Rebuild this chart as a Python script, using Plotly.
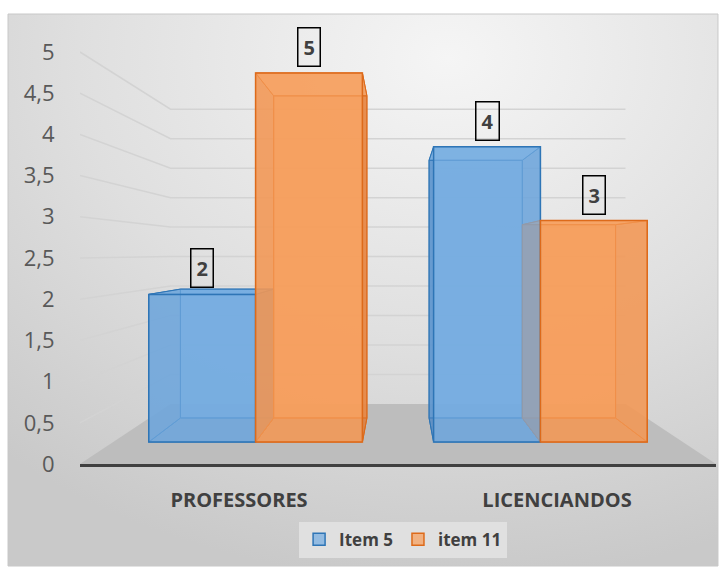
import base64
import plotly.graph_objects as go

# ---------------- data ----------------
categories = ["PROFESSORES", "LICENCIANDOS"]
series_names = ["Item 5", "item 11"]
item5 = [2, 4]
item11 = [5, 3]
ytick_vals = [0, 0.5, 1, 1.5, 2, 2.5, 3, 3.5, 4, 4.5, 5]
ytick_text = ["0", "0,5", "1", "1,5", "2", "2,5", "3", "3,5", "4", "4,5", "5"]

# ---------------- perspective settings (front-plane axis units) ----------------
VP_U, VP_V = 0.5, 2.56      # vanishing point
S_WALL = 0.7154             # depth scale of the back wall
S_FRONT = 0.8957            # depth scale of bar front faces
S_BACK = 0.782              # depth scale of bar back faces
X_RANGE = [-0.5, 1.5]
Y_RANGE = [0, 5.461]
BARGAP = 0.25
BAR_W = (1 - BARGAP) / 2

FONT = "Open Sans"
TXT = "#404040"

colors = {
    "Item 5": dict(face=(116, 172, 225), side=(84, 138, 196), edge="#2e75b6"),
    "item 11": dict(face=(246, 158, 92), side=(222, 124, 58), edge="#dd6a1a"),
}


def proj(u, v, s):
    return VP_U + s * (u - VP_U), VP_V + s * (v - VP_V)


def rgba(c, a):
    return "rgba(%d,%d,%d,%.3f)" % (c[0], c[1], c[2], a)


fig = go.Figure()

# floor
fl = [proj(X_RANGE[0], 0, 1), proj(X_RANGE[1], 0, 1),
      proj(X_RANGE[1], 0, S_WALL), proj(X_RANGE[0], 0, S_WALL)]
fig.add_trace(go.Scatter(x=[p[0] for p in fl] + [fl[0][0]], y=[p[1] for p in fl] + [fl[0][1]],
                         fill="toself", fillcolor="#bdbdbd", mode="lines",
                         line=dict(color="#bdbdbd", width=0), hoverinfo="skip", showlegend=False))

# perspective gridlines (side wall diagonal + back wall)
gx, gy = [], []
for v in ytick_vals[1:]:
    a = proj(X_RANGE[0], v, 1)
    b = proj(X_RANGE[0], v, S_WALL)
    c = proj(X_RANGE[1], v, S_WALL)
    gx += [a[0], b[0], c[0], None]
    gy += [a[1], b[1], c[1], None]
fig.add_trace(go.Scatter(x=gx, y=gy, mode="lines", line=dict(color="#d3d3d3", width=1.5),
                         hoverinfo="skip", showlegend=False))

# 3-D box faces (back/side/top/bottom) behind the front faces
series = [("Item 5", item5, -1), ("item 11", item11, 1)]
for name, vals, side in series:
    col = colors[name]
    for i, h in enumerate(vals):
        u0 = i if side > 0 else i - BAR_W
        u1 = u0 + BAR_W
        F = [proj(u0, 0, S_FRONT), proj(u1, 0, S_FRONT), proj(u1, h, S_FRONT), proj(u0, h, S_FRONT)]
        B = [proj(u0, 0, S_BACK), proj(u1, 0, S_BACK), proj(u1, h, S_BACK), proj(u0, h, S_BACK)]
        faces = [
            (B, rgba(col["face"], 0.85)),
            ([F[0], F[1], B[1], B[0]], rgba(col["side"], 0.6)),
            ([F[0], F[3], B[3], B[0]], rgba(col["side"], 0.6)),
            ([F[1], F[2], B[2], B[1]], rgba(col["side"], 0.6)),
            ([F[3], F[2], B[2], B[3]], rgba(col["face"], 0.7)),
        ]
        for poly, fc in faces:
            fig.add_trace(go.Scatter(
                x=[p[0] for p in poly] + [poly[0][0]], y=[p[1] for p in poly] + [poly[0][1]],
                fill="toself", fillcolor=fc, mode="lines",
                line=dict(color=col["edge"], width=1), hoverinfo="skip", showlegend=False))

# front faces: real bars on a scaled overlay axis
for name, vals, side in series:
    col = colors[name]
    fig.add_trace(go.Bar(
        x=[0, 1], y=vals, name=name, xaxis="x2", yaxis="y2",
        marker=dict(color=rgba(col["face"], 0.72), line=dict(color=col["edge"], width=1.5)),
        hoverinfo="skip"))

# value labels
for name, vals, side in series:
    for i, h in enumerate(vals):
        fig.add_annotation(
            x=i + side * BAR_W / 2, y=h, xref="x2", yref="y2", text="<b>%s</b>" % h,
            showarrow=False, yanchor="bottom", yshift=6,
            font=dict(family=FONT, size=20, color=TXT),
            bordercolor="#000000", borderwidth=1.5, borderpad=5)

x2_range = [VP_U + (X_RANGE[0] - VP_U) / S_FRONT, VP_U + (X_RANGE[1] - VP_U) / S_FRONT]
y2_range = [VP_V + (Y_RANGE[0] - VP_V) / S_FRONT, VP_V + (Y_RANGE[1] - VP_V) / S_FRONT]

# gradient background
svg = ('<svg xmlns="http://www.w3.org/2000/svg" width="710" height="552">'
       '<defs><radialGradient id="g" cx="0.62" cy="0.08" r="0.95">'
       '<stop offset="0" stop-color="#f5f5f5"/><stop offset="0.55" stop-color="#dfdfdf"/>'
       '<stop offset="1" stop-color="#c9c9c9"/></radialGradient></defs>'
       '<rect width="710" height="552" fill="url(#g)"/></svg>')
src = "data:image/svg+xml;base64," + base64.b64encode(svg.encode()).decode()

fig.update_layout(
    width=723, height=569, autosize=False,
    margin=dict(l=80, r=7, t=14, b=105),
    paper_bgcolor="#ffffff", plot_bgcolor="rgba(0,0,0,0)",
    font=dict(family=FONT, color=TXT),
    separators=", ",
    barmode="group", bargap=BARGAP, bargroupgap=0,
    xaxis=dict(range=X_RANGE, tickvals=[0, 1], ticktext=categories, showgrid=False, zeroline=False,
               showline=True, linecolor="#404040", linewidth=3,
               ticks="outside", ticklen=16, tickcolor="rgba(0,0,0,0)",
               tickfont=dict(family=FONT, size=20, color=TXT, weight="bold")),
    yaxis=dict(range=Y_RANGE, tickvals=ytick_vals, ticktext=ytick_text, showgrid=False,
               zeroline=False, showline=False, ticks="outside", ticklen=20,
               tickcolor="rgba(0,0,0,0)", tickfont=dict(family=FONT, size=22, color="#595959")),
    xaxis2=dict(range=x2_range, overlaying="x", visible=False),
    yaxis2=dict(range=y2_range, overlaying="y", visible=False, anchor="x2"),
    legend=dict(orientation="h", x=0.508, xanchor="center", y=-0.128, yanchor="top",
                bgcolor="#e0e0e0", font=dict(family=FONT, size=17, color=TXT, weight="bold"),
                itemclick=False, itemwidth=30, tracegroupgap=0),
    images=[dict(source=src, xref="paper", yref="paper", x=-0.1132, y=1.0,
                 sizex=1.1163, sizey=1.2267, xanchor="left", yanchor="top",
                 sizing="stretch", layer="below")],
    shapes=[dict(type="rect", xref="paper", yref="paper", x0=-0.1132, x1=1.0031,
                 y0=-0.2267, y1=1.0, line=dict(color="#c8c8c8", width=1), layer="below")],
)

fig.write_html("out.html")
